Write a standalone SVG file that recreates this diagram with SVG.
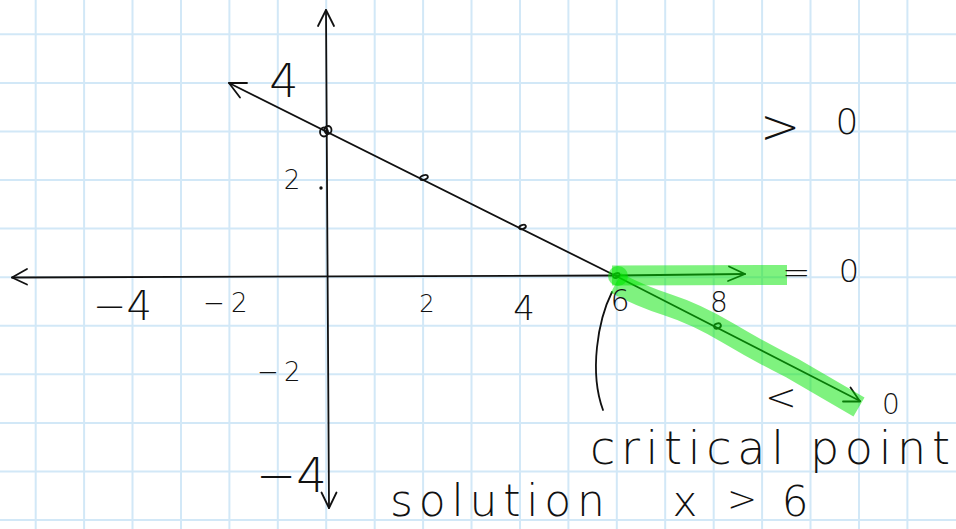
<svg xmlns="http://www.w3.org/2000/svg" width="956" height="529" viewBox="0 0 956 529">
<style>
.grid line{stroke:#d2e8f7;stroke-width:2}
.ink{stroke:#111;stroke-width:1.8;fill:none;stroke-linecap:round;stroke-linejoin:round}
.hl{stroke:#00e600;stroke-opacity:0.5;fill:none;stroke-linejoin:round}
.t{font-family:"DejaVu Sans","Liberation Sans",sans-serif;font-weight:200;fill:#111}
.m{text-anchor:middle}
</style>
<rect width="956" height="529" fill="#fff"/>
<g class="grid" id="grid">
<line x1="35.7" y1="0" x2="35.7" y2="529"/><line x1="84.1" y1="0" x2="84.1" y2="529"/><line x1="132.5" y1="0" x2="132.5" y2="529"/><line x1="181" y1="0" x2="181" y2="529"/><line x1="229.4" y1="0" x2="229.4" y2="529"/><line x1="277.8" y1="0" x2="277.8" y2="529"/><line x1="326.2" y1="0" x2="326.2" y2="529"/><line x1="374.7" y1="0" x2="374.7" y2="529"/><line x1="423.1" y1="0" x2="423.1" y2="529"/><line x1="471.5" y1="0" x2="471.5" y2="529"/><line x1="520" y1="0" x2="520" y2="529"/><line x1="568.4" y1="0" x2="568.4" y2="529"/><line x1="616.8" y1="0" x2="616.8" y2="529"/><line x1="665.2" y1="0" x2="665.2" y2="529"/><line x1="713.7" y1="0" x2="713.7" y2="529"/><line x1="762.1" y1="0" x2="762.1" y2="529"/><line x1="810.5" y1="0" x2="810.5" y2="529"/><line x1="859" y1="0" x2="859" y2="529"/><line x1="907.4" y1="0" x2="907.4" y2="529"/>
<line x1="0" y1="34.3" x2="956" y2="34.3"/><line x1="0" y1="82.9" x2="956" y2="82.9"/><line x1="0" y1="131.4" x2="956" y2="131.4"/><line x1="0" y1="180" x2="956" y2="180"/><line x1="0" y1="228.6" x2="956" y2="228.6"/><line x1="0" y1="277.2" x2="956" y2="277.2"/><line x1="0" y1="325.7" x2="956" y2="325.7"/><line x1="0" y1="374.3" x2="956" y2="374.3"/><line x1="0" y1="422.9" x2="956" y2="422.9"/><line x1="0" y1="471.4" x2="956" y2="471.4"/><line x1="0" y1="520" x2="956" y2="520"/>
</g>
<g id="axes" class="ink">
<path d="M326,10 L329,508"/>
<path d="M318,26 L326,10 L334,26"/>
<path d="M321.5,492.5 L329,508 L336.5,492.5"/>
<path d="M12,277.5 L616,275.5"/>
<path d="M27,269 L12,277.5 L27,284.5"/>
</g>
<g id="line" class="ink">
<path d="M229,83 L616,276 L860,401"/>
<path d="M247,83 L229,83 L240,97.5"/>
<path d="M850.5,387.5 L860,401.5 L843,401.5"/>
<path d="M616,275.5 L745,274"/>
<path d="M729,266.5 L745,274 L728,281"/>
</g>
<g id="points" class="ink">
<ellipse cx="324" cy="132" rx="4" ry="4.5"/>
<ellipse cx="328" cy="130" rx="3.5" ry="4"/>
<ellipse cx="424" cy="177.5" rx="4" ry="2.3" transform="rotate(-20 424 177.5)"/>
<ellipse cx="522.5" cy="227" rx="3.5" ry="2" transform="rotate(-20 522.5 227)"/>
<ellipse cx="616.5" cy="275.5" rx="3.5" ry="2.2" transform="rotate(-20 616.5 275.5)"/>
<ellipse cx="717.5" cy="326" rx="3.5" ry="2.5" transform="rotate(-20 717.5 326)"/>
<circle cx="321" cy="188" r="0.8" fill="#111"/>
<path d="M612,292 C598,320 589,372 603,410"/>
</g>
<g id="highlight">
<path class="hl" d="M612,275.5 L787,275" stroke-width="20"/>
<circle cx="618" cy="276" r="10" fill="#00e600" fill-opacity="0.5"/>
<path class="hl" d="M616,283 Q640,296 668,305 T728,333 T792,368 L859,407" stroke-width="22"/>
</g>
<g id="labels">
<text class="t m" x="284" y="97" font-size="46">4</text>
<text class="t m" x="292" y="189" font-size="26">2</text>
<text class="t" x="93" y="320" font-size="40">−4</text>
<text class="t" x="203" y="312" font-size="26">−<tspan x="231">2</tspan></text>
<text class="t m" x="427" y="312" font-size="24">2</text>
<text class="t m" x="524" y="320" font-size="34">4</text>
<text class="t m" x="620" y="311" font-size="30">6</text>
<text class="t m" x="719" y="312" font-size="28">8</text>
<text class="t" x="257" y="381" font-size="26">−<tspan x="284">2</tspan></text>
<text class="t" x="256" y="492" font-size="48">−4</text>
<text class="t" x="760" y="143" font-size="48">&gt;</text>
<text class="t m" x="847" y="134" font-size="36">0</text>
<text class="t" x="782" y="284" font-size="34">=</text>
<text class="t m" x="849" y="282" font-size="32">0</text>
<text class="t" x="765" y="410" font-size="38">&lt;</text>
<text class="t m" x="891" y="414" font-size="28">0</text>
<text class="t" x="590" y="464" font-size="46" textLength="360" lengthAdjust="spacing">critical point</text>
<text class="t" x="390" y="516" font-size="44" textLength="215" lengthAdjust="spacing">solution</text>
<text class="t m" x="685" y="516" font-size="42">x</text>
<text class="t m" x="742" y="511" font-size="36">&gt;</text>
<text class="t m" x="795" y="516" font-size="42">6</text>
</g>
</svg>
